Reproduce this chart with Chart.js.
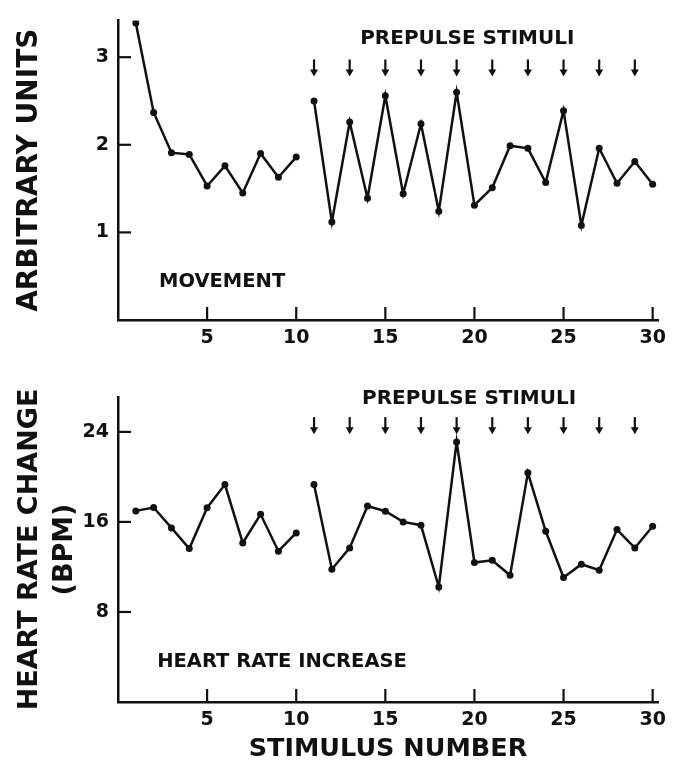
<!DOCTYPE html>
<html>
<head>
<meta charset="utf-8">
<script src="https://cdn.jsdelivr.net/npm/chart.js@4.4.1/dist/chart.umd.min.js"></script>
<style>
  html, body { margin: 0; padding: 0; background: #fff; }
  canvas { position: absolute; left: 0; }
</style>
</head>
<body>
<canvas id="topChart" width="684" height="360" style="top:0px"></canvas>
<canvas id="botChart" width="684" height="402" style="top:360px"></canvas>
<script>
// ---- data ----
const trials = [1,2,3,4,5,6,7,8,9,10,11,12,13,14,15,16,17,18,19,20,21,22,23,24,25,26,27,28,29,30];
const movement = [3.39,2.37,1.91,1.89,1.53,1.76,1.45,1.90,1.63,1.86,
                  2.50,1.12,2.26,1.39,2.56,1.44,2.24,1.24,2.60,1.31,
                  1.51,1.99,1.96,1.57,2.39,1.08,1.96,1.56,1.81,1.55];
const heartRate = [16.98,17.28,15.47,13.63,17.25,19.32,14.13,16.68,13.40,15.02,
                   19.32,11.80,13.69,17.42,16.95,16.00,15.71,10.22,23.11,12.39,
                   12.60,11.26,20.36,15.17,11.06,12.24,11.71,15.32,13.69,15.62];
const prepulseTrials = [11,13,15,17,19,21,23,25,27,29];
const xTickValues = [5,10,15,20,25,30];
const movementTicks = [1,2,3];
const heartTicks = [8,16,24];
const lastPreTrial = 10; // line is broken between trial 10 and 11

const FONT = "'DejaVu Sans', sans-serif";
const INK = '#111';

// inward tick marks + annotations
const figurePlugin = {
  id: 'figure',
  afterDatasetsDraw(chart, args, opts) {
    const ctx = chart.ctx;
    const xs = chart.scales.x, ys = chart.scales.y;
    const area = chart.chartArea;
    ctx.save();
    ctx.strokeStyle = INK;
    ctx.fillStyle = INK;
    ctx.lineWidth = 2.2;
    // inward ticks
    xs.ticks.forEach(t => {
      const px = xs.getPixelForValue(t.value);
      ctx.beginPath(); ctx.moveTo(px, area.bottom); ctx.lineTo(px, area.bottom - 13); ctx.stroke();
    });
    ys.ticks.forEach(t => {
      const py = ys.getPixelForValue(t.value);
      ctx.beginPath(); ctx.moveTo(area.left, py); ctx.lineTo(area.left + 13, py); ctx.stroke();
    });
    // arrows
    prepulseTrials.forEach(tr => {
      const px = xs.getPixelForValue(tr);
      const tip = ys.getPixelForValue(opts.arrowTip);
      ctx.lineWidth = 2.2;
      ctx.beginPath(); ctx.moveTo(px, tip - 17); ctx.lineTo(px, tip - 5); ctx.stroke();
      ctx.beginPath(); ctx.moveTo(px - 4, tip - 7); ctx.lineTo(px + 4, tip - 7); ctx.lineTo(px, tip); ctx.closePath(); ctx.fill();
    });
    // texts
    ctx.textBaseline = 'middle';
    ctx.font = "bold 20px " + FONT;
    ctx.textAlign = 'center';
    ctx.fillText('PREPULSE STIMULI', xs.getPixelForValue(opts.headX), ys.getPixelForValue(opts.headY));
    ctx.font = "bold 19.5px " + FONT;
    ctx.textAlign = 'left';
    ctx.fillText(opts.label, xs.getPixelForValue(opts.labelX), ys.getPixelForValue(opts.labelY));
    ctx.restore();
  }
};

function makeChart(id, values, yMax, yTicks, yTitle, yTitleFont, yTitlePadTop, yTitleLineHeight, xAxisHeight, showXTitle, padTop, figureOpts) {
  const points = trials.map((t, i) => ({x: t, y: values[i]}));
  return new Chart(document.getElementById(id), {
    type: 'line',
    data: {
      datasets: [{
        data: points,
        borderColor: INK,
        backgroundColor: INK,
        borderWidth: 2.5,
        pointRadius: 3.5,
        pointBackgroundColor: INK,
        pointBorderWidth: 0,
        tension: 0,
        segment: {
          borderColor: c => (trials[c.p0DataIndex] === lastPreTrial ? 'rgba(0,0,0,0)' : INK)
        }
      }]
    },
    options: {
      responsive: false,
      animation: false,
      layout: { padding: { top: padTop, right: 26, left: 0, bottom: 0 } },
      plugins: { legend: { display: false }, tooltip: { enabled: false }, figure: figureOpts },
      scales: {
        x: {
          type: 'linear',
          min: 0, max: 30.3,
          afterBuildTicks: s => { s.ticks = xTickValues.map(v => ({value: v})); },
          afterFit: s => { s.height = xAxisHeight; },
          grid: { display: false, drawTicks: false },
          border: { display: true, color: INK, width: 2.5 },
          ticks: { color: INK, font: { family: FONT, weight: 'bold', size: 19 }, padding: 7, maxRotation: 0 },
          title: {
            display: showXTitle,
            text: 'STIMULUS NUMBER',
            color: INK,
            font: { family: FONT, weight: 'bold', size: 25.5, lineHeight: 1.0 },
            padding: { top: 0, bottom: 0 }
          }
        },
        y: {
          type: 'linear',
          min: 0, max: yMax,
          afterBuildTicks: s => { s.ticks = yTicks.map(v => ({value: v})); },
          afterFit: s => { s.width = 118; },
          grid: { display: false, drawTicks: false },
          border: { display: true, color: INK, width: 2.5 },
          ticks: { color: INK, font: { family: FONT, weight: 'bold', size: 19 }, padding: 9 },
          title: {
            display: true,
            text: yTitle,
            color: INK,
            font: { family: FONT, weight: 'bold', size: yTitleFont, lineHeight: yTitleLineHeight },
            padding: { top: yTitlePadTop, bottom: 0 }
          }
        }
      }
    },
    plugins: [figurePlugin]
  });
}

makeChart('topChart', movement, 3.42, movementTicks, 'ARBITRARY UNITS', 28, 13, 1.2, 40, false, 13,
  { arrowTip: 2.78, headX: 19.6, headY: 3.21, label: 'MOVEMENT', labelX: 2.3, labelY: 0.43 });

makeChart('botChart', heartRate, 27.1, heartTicks, ['HEART RATE CHANGE', '(BPM)'], 27, 12.5, 1.3, 60, true, 37,
  { arrowTip: 23.8, headX: 19.7, headY: 26.9, label: 'HEART RATE INCREASE', labelX: 2.2, labelY: 3.56 });
</script>
</body>
</html>
